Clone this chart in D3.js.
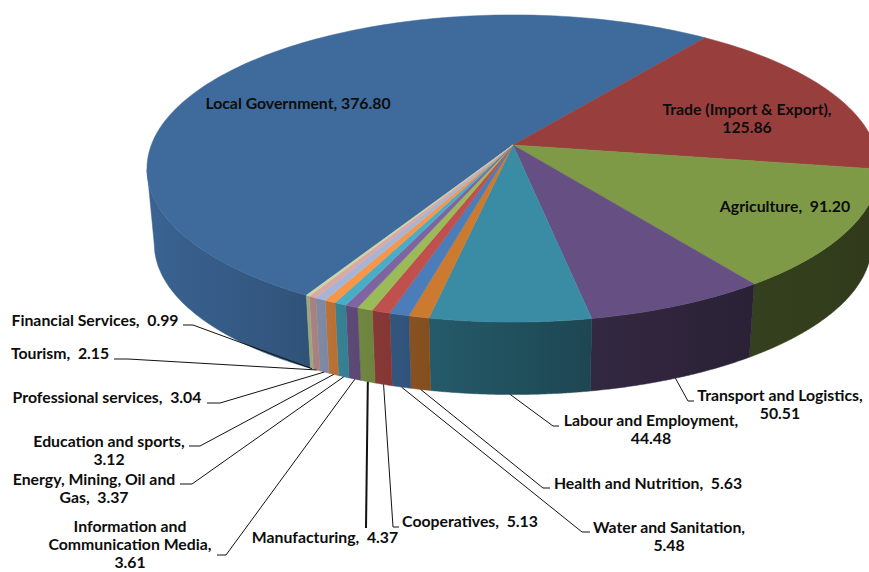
<!DOCTYPE html>
<html>
<head>
<meta charset="utf-8">
<script src="https://cdn.jsdelivr.net/npm/d3@7"></script>
<style>
  html, body { margin: 0; padding: 0; background: #fff; overflow: hidden; }
</style>
</head>
<body>
<div id="chart"></div>
<script>
// \n marks where the reference wraps the category name
const categories = [
  'Local Government', 'Trade (Import & Export)', 'Agriculture', 'Transport and Logistics',
  'Labour and Employment', 'Health and Nutrition', 'Water and Sanitation', 'Cooperatives',
  'Manufacturing', 'Information and\nCommunication Media', 'Energy, Mining, Oil and\nGas',
  'Education and sports', 'Professional services', 'Tourism', 'Financial Services',
];
const values = [376.80, 125.86, 91.20, 50.51, 44.48, 5.63, 5.48, 5.13, 4.37, 3.61, 3.37, 3.12, 3.04, 2.15, 0.99];
const valueOnOwnLine = [false, true, false, true, true, false, true, false, false, true, false, true, false, false, false];
const colors = [
  '#3e6a9c', '#983f3d', '#7e9a47', '#664f82', '#3a8ca4', '#cc7a30', '#4a7db9', '#c0504d',
  '#9bbb59', '#8064a2', '#4bacc6', '#f79646', '#a6b4d6', '#dba8a6', '#c9d6a6',
];

// label anchor, and the stub + elbow of the leader line (no stub when the label sits on the slice)
const labelLayout = [
  { x: 298, y: 104 },
  { x: 747, y: 110 },
  { x: 785, y: 207 },
  { x: 780, y: 396, stub: [694, 401], elbow: [688, 401] },
  { x: 651, y: 421, stub: [559, 426], elbow: [553, 426] },
  { x: 648, y: 484, stub: [550, 488], elbow: [543, 488] },
  { x: 669, y: 528, stub: [590, 532], elbow: [582, 532] },
  { x: 470, y: 522, stub: [399, 527], elbow: [393, 527] },
  { x: 325, y: 538, stub: [366, 528], elbow: [366, 528], heavy: true },
  { x: 130, y: 527, stub: [217, 555], elbow: [226, 555] },
  { x: 94, y: 480, stub: [180, 484], elbow: [192, 484] },
  { x: 109, y: 442, stub: [189, 446], elbow: [200, 446] },
  { x: 107, y: 398, stub: [207, 403], elbow: [220, 403] },
  { x: 60, y: 354, stub: [114, 359], elbow: [128, 359] },
  { x: 95, y: 321, stub: [183, 325], elbow: [193, 325] },
];

const width = 869;
const height = 572;

// the pie is a circle seen in perspective: the apex is not the middle of the rim ellipse
const cx = 513;
const cyTop = 145;
const cyBottom = 221;
const rimX = 361.7;
const rimY = 150;
const persp = 0.153;
const bottomScale = 0.98;

const project = (angle, bottom) => {
  const d = 1 + persp * Math.cos(angle);
  const s = bottom ? bottomScale : 1;
  return [
    cx + (s * rimX * Math.sin(angle)) / d,
    (bottom ? cyBottom : cyTop) - (s * rimY * Math.cos(angle)) / d,
  ];
};

const startAngle = (209.7 * Math.PI) / 180;
const pie = d3.pie().sort(null).startAngle(startAngle).endAngle(startAngle + 2 * Math.PI);
const arcs = pie(values);

// side walls get darker towards the right
const shade = d3.scaleLinear()
  .domain([-366, -200, -80, 80, 240, 366])
  .range([0.94, 0.77, 0.64, 0.5, 0.42, 0.38]);

const line = d3.line();

const svg = d3.select('#chart')
  .append('svg')
  .attr('width', width)
  .attr('height', height)
  .style('display', 'block');

const defs = svg.append('defs');

const rimAngles = (d, stepSize) => {
  const n = Math.max(2, Math.ceil((d.endAngle - d.startAngle) / stepSize));
  return d3.range(n + 1).map((i) => d.startAngle + ((d.endAngle - d.startAngle) * i) / n);
};

// the wall only shows between the two points where the rim turns back, at cos = -persp
const walls = arcs
  .map((d) => {
    const angles = rimAngles(d, 0.005).filter((a) => Math.cos(a) < -persp);
    return { index: d.index, angles };
  })
  .filter((w) => w.angles.length > 1);

walls.forEach((w) => {
  const xs = w.angles.map((a) => project(a, false)[0]);
  const x0 = d3.min(xs);
  const x1 = d3.max(xs);
  const c = d3.rgb(colors[w.index]);
  const grad = defs.append('linearGradient')
    .attr('id', `wall${w.index}`)
    .attr('gradientUnits', 'userSpaceOnUse')
    .attr('x1', x0)
    .attr('x2', x1)
    .attr('y1', 0)
    .attr('y2', 0);
  d3.range(9).forEach((i) => {
    const k = shade(x0 + ((x1 - x0) * i) / 8 - cx);
    grad.append('stop')
      .attr('offset', i / 8)
      .attr('stop-color', d3.rgb(c.r * k, c.g * k, c.b * k).formatHex());
  });
});

svg.append('g')
  .selectAll('path')
  .data(walls)
  .join('path')
  .attr('d', (w) => {
    const top = w.angles.map((a) => project(a, false));
    const bottom = w.angles.map((a) => project(a, true)).reverse();
    return `${line([...top, ...bottom])}Z`;
  })
  .attr('fill', (w) => `url(#wall${w.index})`)
  .attr('stroke', (w) => `url(#wall${w.index})`)
  .attr('stroke-width', 0.5);

svg.append('g')
  .selectAll('path')
  .data(arcs)
  .join('path')
  .attr('d', (d) => {
    const rim = rimAngles(d, 0.02).map((a) => project(a, false));
    return `${line([[cx, cyTop], ...rim])}Z`;
  })
  .attr('fill', (d) => colors[d.index])
  .attr('stroke', (d) => colors[d.index])
  .attr('stroke-width', 0.5);

// leader lines run from the lower rim of each slice to the label
svg.append('g')
  .selectAll('path')
  .data(arcs.filter((d) => labelLayout[d.index].stub))
  .join('path')
  .attr('d', (d) => {
    const l = labelLayout[d.index];
    return line([project((d.startAngle + d.endAngle) / 2, true), l.elbow, l.stub]);
  })
  .attr('fill', 'none')
  .attr('stroke', '#111')
  .attr('stroke-width', (d) => (labelLayout[d.index].heavy ? 2 : 1));

const labels = svg.append('g')
  .attr('font-family', 'Lato, sans-serif')
  .attr('font-weight', 700)
  .attr('font-size', 15.8)
  .attr('fill', '#0d0d0d')
  .selectAll('text')
  .data(categories)
  .join('text')
  .attr('text-anchor', 'middle')
  .attr('xml:space', 'preserve')
  .attr('y', (d, i) => labelLayout[i].y + 5);

labels.each(function (d, i) {
  const sep = valueOnOwnLine[i] ? ',\n' : (i === 0 ? ', ' : ',  ');
  const rows = `${d}${sep}${values[i].toFixed(2)}`.split('\n');
  d3.select(this).selectAll('tspan')
    .data(rows)
    .join('tspan')
    .attr('x', labelLayout[i].x)
    .attr('dy', (r, j) => (j ? 18 : 0))
    .text((r) => r);
});
</script>
</body>
</html>
